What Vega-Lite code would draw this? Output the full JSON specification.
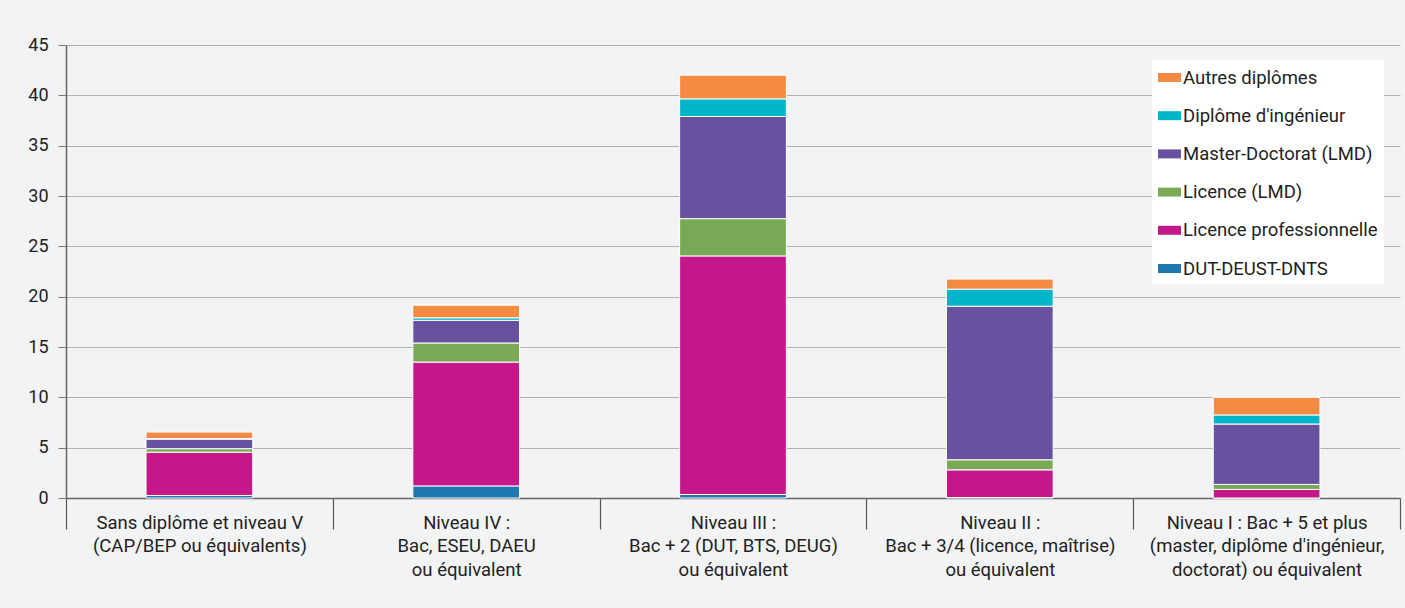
{
  "$schema": "https://vega.github.io/schema/vega-lite/v6.json",
  "width": 1334,
  "height": 453,
  "autosize": {"type": "none"},
  "padding": {"left": 66, "top": 45, "right": 5, "bottom": 110},
  "background": "#f2f3f5",
  "config": {
    "font": "Roboto",
    "view": {"stroke": null}
  },
  "data": {
    "values": [
      {"niveau": "Sans diplôme et niveau V|(CAP/BEP ou équivalents)", "type": "DUT-DEUST-DNTS", "valeur": 0.25},
      {"niveau": "Sans diplôme et niveau V|(CAP/BEP ou équivalents)", "type": "Licence professionnelle", "valeur": 4.3},
      {"niveau": "Sans diplôme et niveau V|(CAP/BEP ou équivalents)", "type": "Licence (LMD)", "valeur": 0.35},
      {"niveau": "Sans diplôme et niveau V|(CAP/BEP ou équivalents)", "type": "Master-Doctorat (LMD)", "valeur": 0.95},
      {"niveau": "Sans diplôme et niveau V|(CAP/BEP ou équivalents)", "type": "Diplôme d'ingénieur", "valeur": 0.05},
      {"niveau": "Sans diplôme et niveau V|(CAP/BEP ou équivalents)", "type": "Autres diplômes", "valeur": 0.65},
      {"niveau": "Niveau IV :|Bac, ESEU, DAEU|ou équivalent", "type": "DUT-DEUST-DNTS", "valeur": 1.2},
      {"niveau": "Niveau IV :|Bac, ESEU, DAEU|ou équivalent", "type": "Licence professionnelle", "valeur": 12.3},
      {"niveau": "Niveau IV :|Bac, ESEU, DAEU|ou équivalent", "type": "Licence (LMD)", "valeur": 1.9},
      {"niveau": "Niveau IV :|Bac, ESEU, DAEU|ou équivalent", "type": "Master-Doctorat (LMD)", "valeur": 2.25},
      {"niveau": "Niveau IV :|Bac, ESEU, DAEU|ou équivalent", "type": "Diplôme d'ingénieur", "valeur": 0.25},
      {"niveau": "Niveau IV :|Bac, ESEU, DAEU|ou équivalent", "type": "Autres diplômes", "valeur": 1.25},
      {"niveau": "Niveau III :|Bac + 2 (DUT, BTS, DEUG)|ou équivalent", "type": "DUT-DEUST-DNTS", "valeur": 0.35},
      {"niveau": "Niveau III :|Bac + 2 (DUT, BTS, DEUG)|ou équivalent", "type": "Licence professionnelle", "valeur": 23.7},
      {"niveau": "Niveau III :|Bac + 2 (DUT, BTS, DEUG)|ou équivalent", "type": "Licence (LMD)", "valeur": 3.7},
      {"niveau": "Niveau III :|Bac + 2 (DUT, BTS, DEUG)|ou équivalent", "type": "Master-Doctorat (LMD)", "valeur": 10.15},
      {"niveau": "Niveau III :|Bac + 2 (DUT, BTS, DEUG)|ou équivalent", "type": "Diplôme d'ingénieur", "valeur": 1.75},
      {"niveau": "Niveau III :|Bac + 2 (DUT, BTS, DEUG)|ou équivalent", "type": "Autres diplômes", "valeur": 2.35},
      {"niveau": "Niveau II :|Bac + 3/4 (licence, maîtrise)|ou équivalent", "type": "DUT-DEUST-DNTS", "valeur": 0.05},
      {"niveau": "Niveau II :|Bac + 3/4 (licence, maîtrise)|ou équivalent", "type": "Licence professionnelle", "valeur": 2.75},
      {"niveau": "Niveau II :|Bac + 3/4 (licence, maîtrise)|ou équivalent", "type": "Licence (LMD)", "valeur": 1.0},
      {"niveau": "Niveau II :|Bac + 3/4 (licence, maîtrise)|ou équivalent", "type": "Master-Doctorat (LMD)", "valeur": 15.25},
      {"niveau": "Niveau II :|Bac + 3/4 (licence, maîtrise)|ou équivalent", "type": "Diplôme d'ingénieur", "valeur": 1.7},
      {"niveau": "Niveau II :|Bac + 3/4 (licence, maîtrise)|ou équivalent", "type": "Autres diplômes", "valeur": 1.0},
      {"niveau": "Niveau I : Bac + 5 et plus|(master, diplôme d'ingénieur,|doctorat) ou équivalent", "type": "DUT-DEUST-DNTS", "valeur": 0.0},
      {"niveau": "Niveau I : Bac + 5 et plus|(master, diplôme d'ingénieur,|doctorat) ou équivalent", "type": "Licence professionnelle", "valeur": 0.85},
      {"niveau": "Niveau I : Bac + 5 et plus|(master, diplôme d'ingénieur,|doctorat) ou équivalent", "type": "Licence (LMD)", "valeur": 0.5},
      {"niveau": "Niveau I : Bac + 5 et plus|(master, diplôme d'ingénieur,|doctorat) ou équivalent", "type": "Master-Doctorat (LMD)", "valeur": 6.0},
      {"niveau": "Niveau I : Bac + 5 et plus|(master, diplôme d'ingénieur,|doctorat) ou équivalent", "type": "Diplôme d'ingénieur", "valeur": 0.9},
      {"niveau": "Niveau I : Bac + 5 et plus|(master, diplôme d'ingénieur,|doctorat) ou équivalent", "type": "Autres diplômes", "valeur": 1.75}
    ]
  },
  "transform": [
    {"calculate": "indexof(['DUT-DEUST-DNTS', 'Licence professionnelle', 'Licence (LMD)', 'Master-Doctorat (LMD)', \"Diplôme d'ingénieur\", 'Autres diplômes'], datum.type)", "as": "ordre"}
  ],
  "mark": {"type": "bar", "width": {"band": 0.4}, "stroke": "white", "strokeWidth": 1},
  "encoding": {
    "x": {
      "field": "niveau",
      "type": "nominal",
      "sort": null,
      "scale": {"paddingInner": 0, "paddingOuter": 0},
      "axis": {
        "title": null,
        "labelAngle": 0,
        "labelExpr": "split(datum.label, '|')",
        "labelFontSize": 18.5,
        "labelLimit": 400,
        "labelColor": "#222222",
        "labelLineHeight": 23.5,
        "labelPadding": -16,
        "labelBaseline": "top",
        "tickBand": "extent",
        "tickSize": 31,
        "tickColor": "#555555",
        "tickWidth": 1.2,
        "domainColor": "#666666",
        "domainWidth": 1.5
      }
    },
    "y": {
      "field": "valeur",
      "type": "quantitative",
      "aggregate": "sum",
      "stack": "zero",
      "scale": {"domain": [0, 45], "nice": false},
      "axis": {
        "title": null,
        "values": [0, 5, 10, 15, 20, 25, 30, 35, 40, 45],
        "labelFontSize": 18,
        "labelColor": "#222222",
        "labelPadding": 10,
        "tickSize": 8,
        "tickColor": "#777777",
        "domainColor": "#666666",
        "domainWidth": 1.5,
        "gridColor": "#b0b0b0",
        "gridWidth": 1.2
      }
    },
    "order": {"field": "ordre", "type": "quantitative", "sort": "ascending"},
    "color": {
      "field": "type",
      "type": "nominal",
      "scale": {
        "domain": ["Autres diplômes", "Diplôme d'ingénieur", "Master-Doctorat (LMD)", "Licence (LMD)", "Licence professionnelle", "DUT-DEUST-DNTS"],
        "range": ["#f58a42", "#00b5c9", "#68519f", "#7aa955", "#c6178a", "#1f77b0"]
      },
      "legend": {
        "title": null,
        "orient": "none",
        "legendX": 1086,
        "legendY": 15,
        "fillColor": "white",
        "padding": 6,
        "labelFontSize": 18.5,
        "labelLimit": 400,
        "labelColor": "#222222",
        "labelOffset": 2,
        "rowPadding": 17.2,
        "symbolType": "M-1,-0.39H1V0.39H-1Z",
        "symbolSize": 529,
        "symbolStrokeWidth": 0,
        "symbolOpacity": 1
      }
    }
  }
}
